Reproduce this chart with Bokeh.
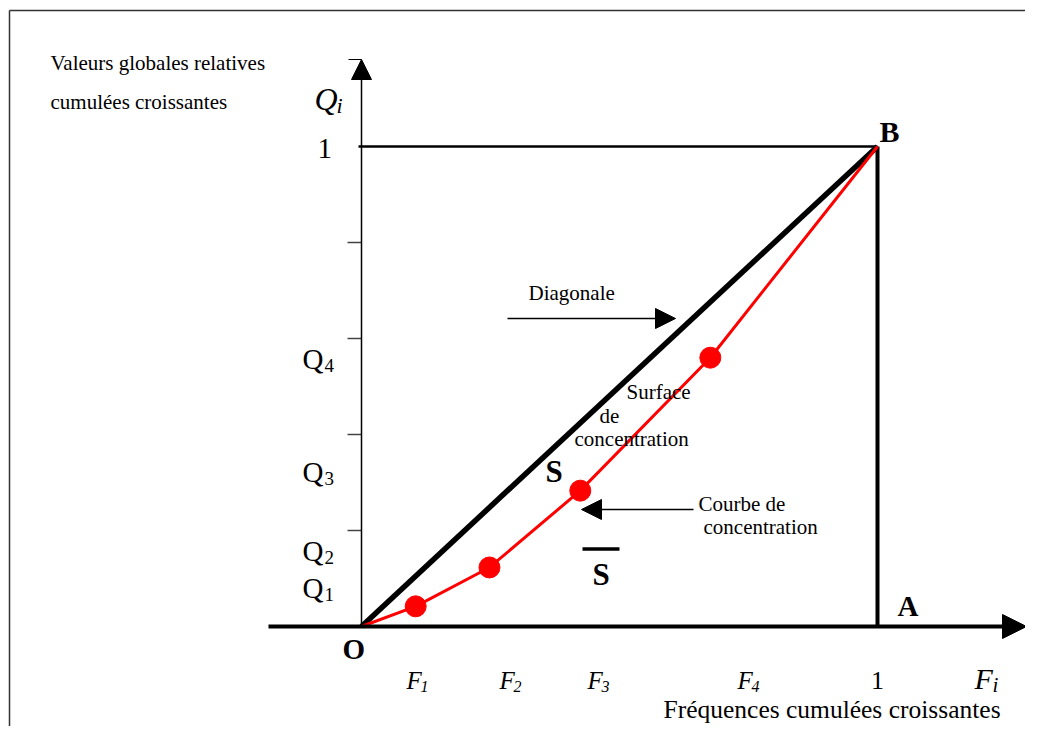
from bokeh.plotting import figure
from bokeh.models import Range1d, Arrow, NormalHead
from bokeh.core.properties import value
from bokeh.embed import file_html
from bokeh.resources import INLINE

# ---- data ----
F = [0.105, 0.248, 0.424, 0.676]          # cumulative frequencies F1..F4
Q = [0.042, 0.123, 0.283, 0.560]          # cumulative relative values Q1..Q4
y_ticks = [0.2, 0.4, 0.6, 0.8]
f_subs = ["1", "2", "3", "4"]
q_subs = ["1", "2", "3", "4"]

FONT = value("Liberation Serif")

W, H = 1025, 726
# picture pixel -> data helpers (layout only)
OX, OY, SX, SY = 361, 626, 516.0, 480.0
def X(px):
    return (px - OX) / SX
def Y(py):
    return (OY - py) / SY

p = figure(width=W, height=H, output_backend="svg", toolbar_location=None,
           x_range=Range1d(X(0), X(W)), y_range=Range1d(Y(H), Y(0)),
           min_border=0, outline_line_color=None)
p.axis.visible = False
p.grid.visible = False
p.background_fill_color = "white"

def txt(px, py, s, size, style="normal", align="left", color="black"):
    p.text(x=[X(px)], y=[Y(py)], text=[s], text_font=FONT,
           text_font_size=f"{size}px", text_font_style=style,
           text_align=align, text_baseline="middle", text_color=color)

# frame (top and left border)
p.segment(x0=[X(9), X(9)], y0=[Y(10), Y(10)], x1=[X(W), X(9)], y1=[Y(10), Y(H)],
          line_color="#333333", line_width=1.5)

# square lines
p.segment(x0=[X(358)], y0=[1], x1=[1], y1=[1], line_color="black", line_width=2.5)
p.segment(x0=[1], y0=[0], x1=[1], y1=[1], line_color="black", line_width=4)

# y ticks
p.segment(x0=[X(347)] * len(y_ticks), y0=y_ticks, x1=[0] * len(y_ticks), y1=y_ticks,
          line_color="#444444", line_width=1.5)

# axes with arrows
p.add_layout(Arrow(end=NormalHead(size=20, fill_color="black", line_color="black"),
                   x_start=0, y_start=0, x_end=0, y_end=Y(59), line_width=1.5, line_color="black"))
p.add_layout(Arrow(end=NormalHead(size=24, fill_color="black", line_color="black"),
                   x_start=X(268), y_start=0, x_end=X(1026), y_end=0, line_width=4, line_color="black"))
p.segment(x0=[X(348)], y0=[Y(59)], x1=[0], y1=[Y(59)], line_color="black", line_width=1)

# diagonal
p.line(x=[0, 1], y=[0, 1], line_color="black", line_width=5.5)

# concentration curve
cx = [0] + F + [1]
cy = [0] + Q + [1]
p.line(x=cx, y=cy, line_color="#ff0000", line_width=3)
p.scatter(x=F, y=Q, size=21, fill_color="#ff0000", line_color="#ff0000")

# annotation arrows
p.add_layout(Arrow(end=NormalHead(size=20, fill_color="black", line_color="black"),
                   x_start=X(507), y_start=Y(318), x_end=X(675), y_end=Y(318),
                   line_width=1.5, line_color="black"))
p.add_layout(Arrow(end=NormalHead(size=20, fill_color="black", line_color="black"),
                   x_start=X(693), y_start=Y(509), x_end=X(581), y_end=Y(509),
                   line_width=1.5, line_color="black"))

# texts (y = visual middle of the capitals)
txt(50, 62, "Valeurs globales relatives", 21)
txt(50, 101, "cumulées croissantes", 21)
txt(314, 98, "Q", 32, "italic")
txt(336, 105, "i", 22, "italic")
txt(317, 148, "1", 29)

q_mid = [587, 550, 471, 358]
for s, m in zip(q_subs, q_mid):
    txt(302, m, "Q", 29)
    txt(324, m + 7, s, 19)

f_left = [406, 499, 587, 737]
for s, l in zip(f_subs, f_left):
    txt(l, 680, "F", 25, "italic")
    txt(l + 14, 686, s, 16, "italic")
txt(877, 680, "1", 26, align="center")
txt(974, 678, "F", 30, "italic")
txt(992, 684, "i", 21, "italic")
txt(663, 709, "Fréquences cumulées croissantes", 25.5)

txt(879, 131, "B", 30, "bold")
txt(897, 605, "A", 29, "bold")
txt(342, 648, "O", 29, "bold")
txt(545, 471, "S", 31, "bold")
txt(592, 574, "S", 31, "bold")
p.segment(x0=[X(582)], y0=[Y(548.5)], x1=[X(619)], y1=[Y(548.5)], line_color="black", line_width=3.5)

txt(528, 292, "Diagonale", 21)
txt(626, 391, "Surface", 21)
txt(599, 415, "de", 21)
txt(574, 438, "concentration", 21)
txt(698, 503, "Courbe de", 21)
txt(703, 526, "concentration", 21)

open("out.html", "w").write(file_html(p, INLINE))
